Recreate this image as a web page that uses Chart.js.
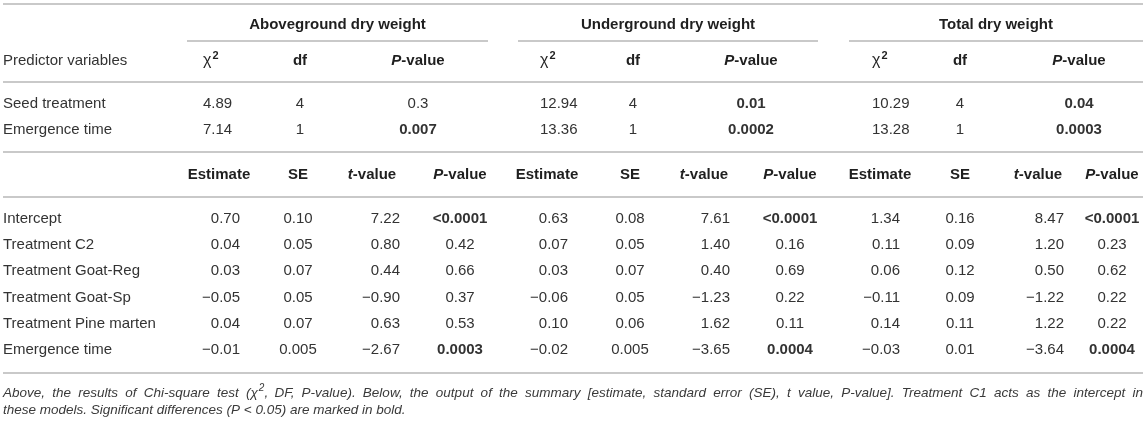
<!DOCTYPE html>
<html>
<head>
<meta charset="utf-8">
<script src="https://cdn.jsdelivr.net/npm/chart.js"></script>
<style>
  html, body { margin: 0; padding: 0; background: #fff; }
  #wrap { width: 1146px; height: 423px; }
</style>
</head>
<body>
<div id="wrap"><canvas id="table" width="1146" height="423"></canvas></div>
<script>
// table content
const groups = ['Aboveground dry weight', 'Underground dry weight', 'Total dry weight']
const chiHeads = ['χ^2', 'df', '_P_-value']
const chiRows = ['Seed treatment', 'Emergence time']
const chiSq = [['4.89', '7.14'], ['12.94', '13.36'], ['10.29', '13.28']]
const chiDf = [['4', '1'], ['4', '1'], ['4', '1']]
const chiP = [['0.3', '0.007'], ['0.01', '0.0002'], ['0.04', '0.0003']]

const coefHeads = ['Estimate', 'SE', '_t_-value', '_P_-value']
const coefRows = ['Intercept', 'Treatment C2', 'Treatment Goat-Reg', 'Treatment Goat-Sp', 'Treatment Pine marten', 'Emergence time']
const estimate = [
  ['0.70', '0.04', '0.03', '−0.05', '0.04', '−0.01'],
  ['0.63', '0.07', '0.03', '−0.06', '0.10', '−0.02'],
  ['1.34', '0.11', '0.06', '−0.11', '0.14', '−0.03']
]
const stdErr = [
  ['0.10', '0.05', '0.07', '0.05', '0.07', '0.005'],
  ['0.08', '0.05', '0.07', '0.05', '0.06', '0.005'],
  ['0.16', '0.09', '0.12', '0.09', '0.11', '0.01']
]
const tValue = [
  ['7.22', '0.80', '0.44', '−0.90', '0.63', '−2.67'],
  ['7.61', '1.40', '0.40', '−1.23', '1.62', '−3.65'],
  ['8.47', '1.20', '0.50', '−1.22', '1.22', '−3.64']
]
const pValue = [
  ['<0.0001', '0.42', '0.66', '0.37', '0.53', '0.0003'],
  ['<0.0001', '0.16', '0.69', '0.22', '0.11', '0.0004'],
  ['<0.0001', '0.23', '0.62', '0.22', '0.22', '0.0004']
]
const caption = [
  'Above, the results of Chi-square test (χ^2, DF, P-value). Below, the output of the summary [estimate, standard error (SE), t value, P-value]. Treatment C1 acts as the intercept in',
  'these models. Significant differences (P < 0.05) are marked in bold.'
]

// layout (in scale units, scales map 1:1 to the canvas)
const W = 1146, H = 423
const rowY = {
  top: 4, group: 25, groupRule: 41, head: 61, rule1: 82,
  chi: [104, 130], rule2: 152, coefHead: 175, rule3: 197,
  coef: [219, 245, 271, 298, 324, 350], bottom: 373, caption: [393, 410]
}
const labelX = 3
const groupSpan = [[187, 488], [518, 818], [849, 1143]]
const chiX = [[203, 300, 418], [540, 633, 751], [872, 960, 1079]]
const chiAlign = ['left', 'center', 'center']
const coefX = [[240, 298, 400, 460], [568, 630, 730, 790], [900, 960, 1064, 1112]]
const coefHeadX = [[219, 298, 372, 460], [547, 630, 704, 790], [880, 960, 1038, 1112]]
const coefAlign = ['right', 'center', 'right', 'center']

const FONT = '"Liberation Sans", Arial, Helvetica, sans-serif'
const SIZE = 15
const CAP_SIZE = 13.5
const TEXT = '#333333'
const HEAD = '#1f1f1f'
const RULE = '#c9c9c9'

const isSignificant = p => p.startsWith('<') || parseFloat(p) < 0.05

// build cell datasets
const cells = []
const cell = (x, y, text, opts) => cells.push(Object.assign({ x, y, text, align: 'left', bold: false, color: TEXT }, opts))

groups.forEach((g, gi) => {
  cell((groupSpan[gi][0] + groupSpan[gi][1]) / 2, rowY.group, g, { align: 'center', bold: true, color: HEAD })
  chiHeads.forEach((h, ci) => cell(chiX[gi][ci], rowY.head, h, { align: chiAlign[ci], bold: true, color: HEAD }))
  chiRows.forEach((r, ri) => {
    cell(chiX[gi][0], rowY.chi[ri], chiSq[gi][ri], { align: chiAlign[0] })
    cell(chiX[gi][1], rowY.chi[ri], chiDf[gi][ri], { align: chiAlign[1] })
    cell(chiX[gi][2], rowY.chi[ri], chiP[gi][ri], { align: chiAlign[2], bold: isSignificant(chiP[gi][ri]) })
  })
  coefHeads.forEach((h, ci) => cell(coefHeadX[gi][ci], rowY.coefHead, h, { align: 'center', bold: true, color: HEAD }))
  const cols = [estimate[gi], stdErr[gi], tValue[gi], pValue[gi]]
  coefRows.forEach((r, ri) => {
    cols.forEach((col, ci) => cell(coefX[gi][ci], rowY.coef[ri], col[ri], {
      align: coefAlign[ci], bold: ci === 3 && isSignificant(col[ri])
    }))
  })
})
cell(labelX, rowY.head, 'Predictor variables')
chiRows.forEach((r, ri) => cell(labelX, rowY.chi[ri], r))
coefRows.forEach((r, ri) => cell(labelX, rowY.coef[ri], r))

// horizontal rules
const rules = [
  [labelX, W - 3, rowY.top], [labelX, W - 3, rowY.rule1], [labelX, W - 3, rowY.rule2],
  [labelX, W - 3, rowY.rule3], [labelX, W - 3, rowY.bottom],
  ...groupSpan.map(s => [s[0], s[1], rowY.groupRule])
]
const ruleSets = rules.map(r => ({
  data: [{ x: r[0], y: r[2] }, { x: r[1], y: r[2] }],
  showLine: true, borderColor: RULE, borderWidth: 2, pointRadius: 0
}))

// "_x_" = italic run, "^2" = superscript run
function parseRuns(text, bold) {
  const runs = []
  const re = /_([^_]+)_|\^(\w)|([^_^]+)/g
  let m
  while ((m = re.exec(text))) {
    if (m[1]) runs.push({ t: m[1], italic: true, bold })
    else if (m[2]) runs.push({ t: m[2], sup: true, bold })
    else runs.push({ t: m[3], bold: bold && m[3] !== 'χ', big: m[3] === 'χ' && bold })
  }
  return runs
}

function runFont(r, size, italicAll) {
  let s = size
  if (r.sup) s = Math.round(size * 0.74)
  if (r.big) s = size + 1
  return `${(r.italic || italicAll) ? 'italic ' : ''}${r.bold ? 'bold ' : ''}${s}px ${FONT}`
}

function runsWidth(ctx, runs, size, italicAll) {
  return runs.reduce((w, r) => { ctx.font = runFont(r, size, italicAll); return w + ctx.measureText(r.t).width }, 0)
}

function drawRuns(ctx, runs, x, y, size, italicAll) {
  runs.forEach(r => {
    ctx.font = runFont(r, size, italicAll)
    ctx.fillText(r.t, x + (r.sup ? 1 : 0), r.sup ? y - size * 0.36 : y)
    x += ctx.measureText(r.t).width + (r.sup ? 1 : 0)
  })
  return x
}

const tablePlugin = {
  id: 'tableText',
  afterDatasetsDraw(chart) {
    const ctx = chart.ctx
    const xs = chart.scales.x, ys = chart.scales.y
    ctx.save()
    ctx.textBaseline = 'middle'
    ctx.textAlign = 'left'
    const meta = chart.getDatasetMeta(0)
    meta.data.forEach((el, i) => {
      const c = cells[i]
      const runs = parseRuns(c.text, c.bold)
      const w = runsWidth(ctx, runs, SIZE)
      let x = el.x
      if (c.align === 'center') x -= w / 2
      else if (c.align === 'right') x -= w
      ctx.fillStyle = c.color
      drawRuns(ctx, runs, x, el.y, SIZE)
    })

    // caption, first line justified across the table width
    ctx.fillStyle = '#3a3a3a'
    const left = xs.getPixelForValue(labelX), right = xs.getPixelForValue(W - 3)
    caption.forEach((line, li) => {
      const y = ys.getPixelForValue(rowY.caption[li])
      const words = line.split(' ').map(w => parseRuns(w, false))
      ctx.font = `italic ${CAP_SIZE}px ${FONT}`
      const space = ctx.measureText(' ').width
      const widths = words.map(w => runsWidth(ctx, w, CAP_SIZE, true))
      const total = widths.reduce((a, b) => a + b, 0)
      const gap = li === 0 ? (right - left - total) / (words.length - 1) : space
      let x = left
      words.forEach((w, wi) => { drawRuns(ctx, w, x, y, CAP_SIZE, true); x += widths[wi] + gap })
    })
    ctx.restore()
  }
}

new Chart(document.getElementById('table'), {
  type: 'scatter',
  data: {
    datasets: [
      { data: cells.map(c => ({ x: c.x, y: c.y })), pointRadius: 0 },
      ...ruleSets
    ]
  },
  options: {
    responsive: false,
    animation: false,
    events: [],
    layout: { padding: 0 },
    plugins: { legend: { display: false }, tooltip: { enabled: false } },
    scales: {
      x: { type: 'linear', min: 0, max: W, display: false },
      y: { type: 'linear', min: 0, max: H, reverse: true, display: false }
    }
  },
  plugins: [tablePlugin]
})
</script>
</body>
</html>
